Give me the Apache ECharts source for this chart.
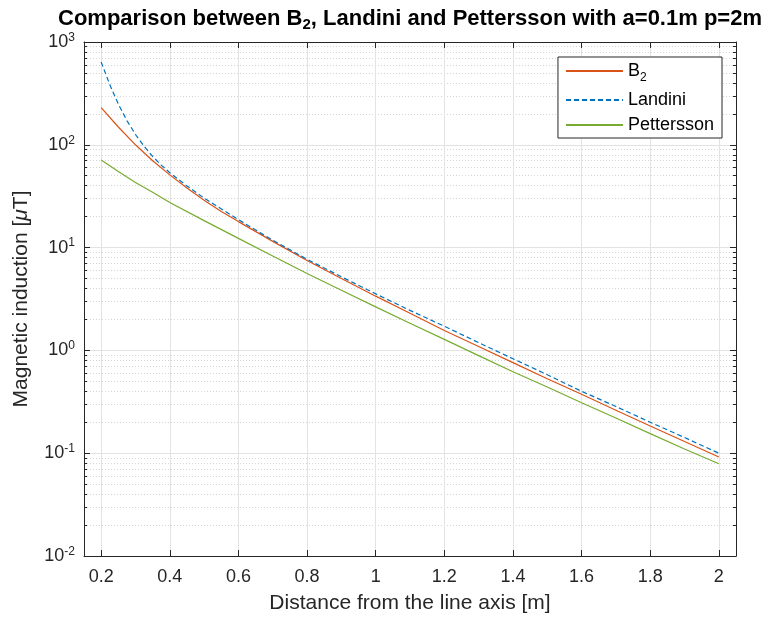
<!DOCTYPE html>
<html>
<head>
<meta charset="utf-8">
<script src="https://cdn.jsdelivr.net/npm/echarts@6/dist/echarts.min.js"></script>
<style>html,body{margin:0;padding:0;background:#fff;}#c{width:768px;height:622px;}</style>
</head>
<body>
<div id="c"></div>
<script>
// ---- data ----
const xB2        = [0.2, 0.25, 0.3, 0.35, 0.4, 0.45, 0.5, 0.55, 0.6, 0.7, 0.8, 0.9, 1.0, 1.1, 1.2, 1.3, 1.4, 1.5, 1.6, 1.7, 1.8, 1.9, 2.0];
const b2         = [230, 149, 100, 70, 51, 38, 28.9, 22.5, 17.9, 11.5, 7.5, 5.0, 3.37, 2.3, 1.56, 1.09, 0.76, 0.53, 0.374, 0.262, 0.184, 0.13, 0.092];
const xLandini   = [0.2, 0.225, 0.25, 0.275, 0.3, 0.325, 0.35, 0.375, 0.4, 0.45, 0.5, 0.6, 0.7, 0.8, 0.9, 1.0, 1.1, 1.2, 1.3, 1.4, 1.5, 1.6, 1.7, 1.8, 1.9, 2.0];
const landini    = [640, 385, 249, 172, 126, 97, 77, 63.5, 53.5, 39.8, 30.3, 18.7, 11.8, 7.7, 5.2, 3.55, 2.45, 1.72, 1.19, 0.83, 0.58, 0.40, 0.285, 0.20, 0.142, 0.10];
const xPettersson = [0.2, 0.25, 0.3, 0.35, 0.4, 0.5, 0.6, 0.7, 0.8, 0.9, 1.0, 1.1, 1.2, 1.3, 1.4, 1.5, 1.6, 1.7, 1.8, 1.9, 2.0];
const pettersson = [71, 55, 43, 34.5, 27.5, 18.3, 12.3, 8.3, 5.6, 3.85, 2.65, 1.84, 1.28, 0.89, 0.62, 0.44, 0.31, 0.22, 0.155, 0.11, 0.079];
const xTicks = [0.2, 0.4, 0.6, 0.8, 1, 1.2, 1.4, 1.6, 1.8, 2];
const yTicks = [0.01, 0.1, 1, 10, 100, 1000];
const yMinor = [];
for (let k = -2; k < 3; k++) for (let m = 2; m <= 9; m++) yMinor.push(+(m * Math.pow(10, k)).toPrecision(3));

const AX = '#262626';
const FONT = '"Liberation Sans", Arial, Helvetica, sans-serif';
const chart = echarts.init(document.getElementById('c'), null, {renderer: 'canvas'});

function supLabel(v) {
  const e = Math.round(Math.log10(v));
  return '{b|10}{s|' + e + '}';
}
const supRich = {
  b: {fontSize: 18, color: AX, fontFamily: FONT},
  s: {fontSize: 12, color: AX, fontFamily: FONT, verticalAlign: 'bottom', padding: [0, 0, 9, 0]}
};

const xBase = {
  type: 'value', min: 0.15, max: 2.05,
  axisLine: {show: true, lineStyle: {color: AX, width: 1}},
  axisTick: {show: true, inside: true, length: 6, customValues: xTicks, lineStyle: {color: AX}},
  axisLabel: {show: false, customValues: xTicks},
  splitLine: {show: false}
};
const yBase = {
  type: 'log', logBase: 10, min: 0.01, max: 1000,
  axisLine: {show: true, lineStyle: {color: AX, width: 1}},
  axisTick: {show: true, inside: true, length: 6, customValues: yTicks, lineStyle: {color: AX}},
  axisLabel: {show: false, customValues: yTicks},
  splitLine: {show: false}
};

const mk = (name, xs, data, color, type) => ({
  name, type: 'line', xAxisIndex: 0, yAxisIndex: 0,
  data: xs.map((x, i) => [x, data[i]]),
  symbol: 'none', smooth: false,
  lineStyle: {color, width: 1.2, type},
  itemStyle: {color},
  z: 5
});

chart.setOption({
  animation: false,
  backgroundColor: '#fff',
  title: {
    text: 'Comparison between B{sub|2}, Landini and Pettersson with a=0.1m p=2m',
    left: 410, textAlign: 'center', top: 5, padding: 0,
    textStyle: {
      fontFamily: FONT, fontSize: 22, fontWeight: 'bold', color: '#000',
      rich: {sub: {fontFamily: FONT, fontSize: 15, fontWeight: 'bold', color: '#000', verticalAlign: 'top', padding: [12, 0, 0, 0]}}
    }
  },
  grid: {left: 84, right: 32, top: 42, bottom: 66, containLabel: false},
  legend: {
    orient: 'vertical', right: 46, top: 57,
    backgroundColor: '#fff', borderColor: AX, borderWidth: 1,
    padding: [5, 8, 4, 7], itemGap: 7, itemWidth: 57, itemHeight: 17,
    itemStyle: {opacity: 0},
    data: ['B2', 'Landini', 'Pettersson'],
    formatter: n => n === 'B2' ? 'B{sub|2}' : n,
    textStyle: {
      fontFamily: FONT, fontSize: 18, color: '#000', lineHeight: 18,
      rich: {sub: {fontFamily: FONT, fontSize: 12, color: '#000', verticalAlign: 'top', padding: [10, 0, 0, 0]}}
    }
  },
  xAxis: [
    Object.assign({}, xBase, {
      position: 'bottom',
      name: 'Distance from the line axis [m]', nameLocation: 'middle', nameGap: 37,
      nameTextStyle: {fontFamily: FONT, fontSize: 21, color: AX},
      axisLabel: {show: true, customValues: xTicks, margin: 12, fontFamily: FONT, fontSize: 18, color: AX,
        formatter: v => String(+v.toFixed(2))},
      splitLine: {show: true, lineStyle: {color: '#e3e3e3', width: 1}}
    }),
    Object.assign({}, xBase, {position: 'top'})
  ],
  yAxis: [
    Object.assign({}, yBase, {
      position: 'left',
      name: 'Magnetic induction [{i|μ}T]', nameLocation: 'middle', nameGap: 52,
      nameTextStyle: {fontFamily: FONT, fontSize: 21, color: AX,
        rich: {i: {fontFamily: FONT, fontSize: 21, fontStyle: 'italic', color: AX}}},
      axisLabel: {show: true, customValues: yTicks, margin: 9, formatter: supLabel, rich: supRich},
      splitLine: {show: true, lineStyle: {color: '#e3e3e3', width: 1}}
    }),
    Object.assign({}, yBase, {
      position: 'left',
      axisLine: {show: false},
      axisTick: {show: true, inside: true, length: 3, customValues: yMinor, lineStyle: {color: AX}},
      splitLine: {show: true, lineStyle: {color: '#d4d4d4', width: 1, type: [1, 2]}}
    }),
    Object.assign({}, yBase, {position: 'right'}),
    Object.assign({}, yBase, {
      position: 'right',
      axisLine: {show: false},
      axisTick: {show: true, inside: true, length: 3, customValues: yMinor, lineStyle: {color: AX}}
    })
  ],
  series: [
    mk('B2', xB2, b2, '#D95319', 'solid'),
    mk('Landini', xLandini, landini, '#0072BD', [5, 3]),
    mk('Pettersson', xPettersson, pettersson, '#77AC30', 'solid')
  ]
});
</script>
</body>
</html>
